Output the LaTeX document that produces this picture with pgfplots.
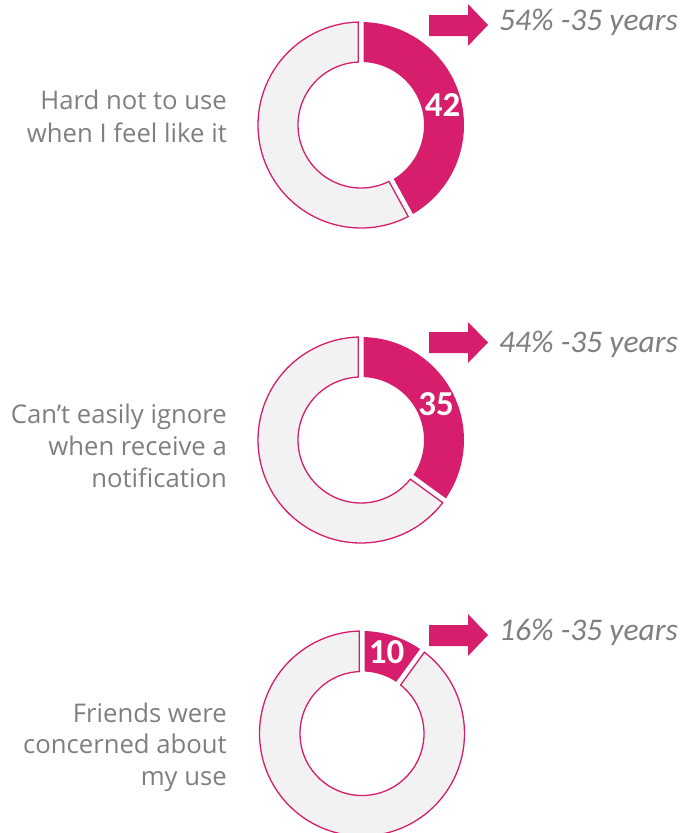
\documentclass[border=0pt]{standalone}
\usepackage{pgfplots}
\pgfplotsset{compat=1.18}
\usepackage{pgfplotstable}
\usepackage{fontspec}
\setmainfont{Carlito}
\newfontfamily\lblfont[Ligatures=NoCommon]{Open Sans}
\usetikzlibrary{calc}
\definecolor{mag}{HTML}{D71E6C}
\definecolor{ring}{HTML}{F2F2F2}
\definecolor{txt}{HTML}{7F7F7F}

\tikzset{
  lbl/.style={anchor=base east, text=txt, font=\lblfont\fontsize{25.7}{30}\selectfont, inner sep=0pt},
  pct/.style={anchor=base west, text=txt, font=\itshape\fontsize{31.5}{36}\selectfont, inner sep=0pt},
  num/.style={anchor=base, text=white, font=\bfseries\fontsize{35}{40}\selectfont, inner sep=0pt},
}

\pgfplotstableread{
idx value young
0 42 54
1 35 44
2 10 16
}\donutdata
\pgfplotstablegetelem{0}{value}\of\donutdata \edef\vA{\pgfplotsretval}
\pgfplotstablegetelem{1}{value}\of\donutdata \edef\vB{\pgfplotsretval}
\pgfplotstablegetelem{2}{value}\of\donutdata \edef\vC{\pgfplotsretval}
\pgfplotstablegetelem{0}{young}\of\donutdata \edef\yA{\pgfplotsretval}
\pgfplotstablegetelem{1}{young}\of\donutdata \edef\yB{\pgfplotsretval}
\pgfplotstablegetelem{2}{young}\of\donutdata \edef\yC{\pgfplotsretval}

% #1 cx, #2 cy, #3 value (percent), #4 outer radius, #5 inner radius
\newcommand\donut[5]{%
  \filldraw[fill=ring, draw=mag, line width=1.3pt]
    ($(axis cs:#1,#2)+({90-3.6*#3-asin(2.7/#4)}:#4pt)$)
    arc[start angle={90-3.6*#3-asin(2.7/#4)}, end angle={-270+asin(2.7/#4)}, radius=#4pt]
    -- ($(axis cs:#1,#2)+({-270+asin(2.7/#5)}:#5pt)$)
    arc[start angle={-270+asin(2.7/#5)}, end angle={90-3.6*#3-asin(2.7/#5)}, radius=#5pt]
    -- cycle;
  \fill[mag]
    ($(axis cs:#1,#2)+({90-asin(2.7/#4)}:#4pt)$)
    arc[start angle={90-asin(2.7/#4)}, end angle={90-3.6*#3+asin(2.7/#4)}, radius=#4pt]
    -- ($(axis cs:#1,#2)+({90-3.6*#3+asin(2.7/#5)}:#5pt)$)
    arc[start angle={90-3.6*#3+asin(2.7/#5)}, end angle={90-asin(2.7/#5)}, radius=#5pt]
    -- cycle;
}

\begin{document}
\begin{tikzpicture}
\begin{axis}[
  hide axis, scale only axis,
  width=699pt, height=833pt,
  xmin=0, xmax=699, ymin=0, ymax=833,
  y dir=reverse,
  clip=true, clip bounding box=upper bound,
]
\path (axis cs:0,0) rectangle (axis cs:699,833);

\donut{361}{125}{\vA}{103}{63}
\donut{361}{440}{\vB}{103}{63}
\donut{362}{733.5}{\vC}{102.5}{62}

% arrows
\addplot[fill=mag, draw=none] coordinates {(429,15) (468,15) (468,4) (488,25) (468,46) (468,36) (429,36)} -- cycle;
\addplot[fill=mag, draw=none] coordinates {(429,332) (468,332) (468,322) (488,342.5) (468,363) (468,353) (429,353)} -- cycle;
\addplot[fill=mag, draw=none] coordinates {(429,625) (468,625) (468,614) (488,635) (468,656) (468,646) (429,646)} -- cycle;

\node[num] at (axis cs:442.5,116.7) {\vA};
\node[num] at (axis cs:436,415) {\vB};
\node[num] at (axis cs:386.5,663) {\vC};

\node[pct] at (axis cs:499,30) {\yA\% -35 years};
\node[pct] at (axis cs:499,352) {\yB\% -35 years};
\node[pct] at (axis cs:499,640) {\yC\% -35 years};

\node[lbl] at (axis cs:227,109) {Hard not to use};
\node[lbl] at (axis cs:227,142) {when I feel like it};
\node[lbl] at (axis cs:227,423) {Can’t easily ignore};
\node[lbl] at (axis cs:227,455) {when receive a};
\node[lbl] at (axis cs:227,487) {notification};
\node[lbl] at (axis cs:227,722) {Friends were};
\node[lbl] at (axis cs:227,753) {concerned about};
\node[lbl] at (axis cs:227,785) {my use};
\end{axis}
\end{tikzpicture}
\end{document}
